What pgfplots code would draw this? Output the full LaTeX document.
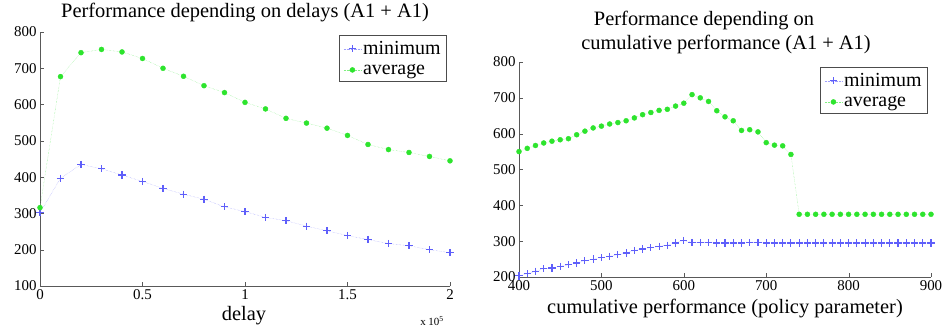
\documentclass[border=0pt]{standalone}
\usepackage{fontspec}
\setmainfont{Liberation Serif}
\usepackage{pgfplots}
\pgfplotsset{compat=1.18}
\definecolor{mblue}{RGB}{95,95,250}
\definecolor{mgreen}{RGB}{45,228,45}
\begin{document}
\begin{tikzpicture}
\useasboundingbox (0bp,0bp) rectangle (944bp,331bp);
\pgfplotsset{every axis/.append style={
  scale only axis, clip=false,
  axis x line=bottom, axis y line=left,
  axis line style={black!65,-},
  tick align=inside, major tick length=4bp, tick style={black!65},
  /pgf/number format/assume math mode=true,
  ticklabel style={font=\fontsize{15}{15}\selectfont},
  legend style={font=\fontsize{20}{22}\selectfont, draw=black!70, thick, at={(1,1)}, anchor=north east,
     inner xsep=4bp, inner ysep=4bp, row sep=4bp},
  legend cell align=left,
}}
\pgfplotsset{minstyle/.style={color=mblue!60, densely dotted, thin, mark=+, mark size=3.6bp, mark options={solid, draw=mblue, color=mblue, line width=1.1bp}},
             avgstyle/.style={color=mgreen!60, densely dotted, thin, mark=*, mark size=2.5bp, mark options={solid, fill=mgreen, draw=mgreen}}}

\begin{axis}[at={(40bp,45bp)}, anchor=south west, width=410bp, height=254bp,
  xmin=0, xmax=2, ymin=100, ymax=800,
  xtick={0,0.5,1,1.5,2}, xticklabels={0,0.5,1,1.5,2},
  ytick={100,200,...,800},
  legend style={xshift=-3bp, yshift=-3bp}]
\addplot[minstyle] coordinates {
(0,302)(0.1,397)(0.2,435)(0.3,423)(0.4,406)(0.5,388)(0.6,369)(0.7,353)(0.8,339)(0.9,318)(1.0,305)
(1.1,289)(1.2,280)(1.3,265)(1.4,252)(1.5,239)(1.6,228)(1.7,217)(1.8,211)(1.9,200)(2.0,192)};
\addlegendentry{minimum}
\addplot[avgstyle] coordinates {
(0,316)(0.1,677)(0.2,743)(0.3,752)(0.4,745)(0.5,727)(0.6,700)(0.7,678)(0.8,652)(0.9,633)(1.0,606)
(1.1,588)(1.2,562)(1.3,549)(1.4,535)(1.5,515)(1.6,490)(1.7,476)(1.8,468)(1.9,457)(2.0,445)};
\addlegendentry{average}
\end{axis}

\begin{axis}[at={(519bp,54bp)}, anchor=south west, width=412bp, height=215bp,
  xmin=400, xmax=900, ymin=200, ymax=800,
  xtick={400,500,...,900}, ytick={200,300,...,800},
  legend style={xshift=-3bp, yshift=-5bp}]
\addplot[minstyle] coordinates {
(400,203)(410,209)(420,216)(430,223)(440,225)(450,230)(460,234)(470,239)(480,245)(490,250)
(500,254)(510,258)(520,262)(530,267)(540,274)(550,278)(560,282)(570,286)(580,289)(590,295)
(600,302)(610,296)(620,296)(630,296)(640,295)(650,295)(660,295)(670,295)(680,296)(690,296)
(700,295)(710,295)(720,295)(730,295)(740,295)(750,295)(760,295)(770,295)(780,295)(790,295)
(800,295)(810,295)(820,295)(830,295)(840,295)(850,295)(860,295)(870,295)(880,295)(890,295)(900,295)};
\addlegendentry{minimum}
\addplot[avgstyle] coordinates {
(400,550)(410,559)(420,567)(430,574)(440,579)(450,583)(460,586)(470,597)(480,607)(490,616)
(500,621)(510,627)(520,631)(530,636)(540,644)(550,653)(560,659)(570,665)(580,668)(590,677)
(600,685)(610,709)(620,700)(630,690)(640,664)(650,647)(660,636)(670,609)(680,611)(690,605)
(700,575)(710,568)(720,566)(730,542)(740,375)(750,375)(760,375)(770,375)(780,375)(790,375)
(800,375)(810,375)(820,375)(830,375)(840,375)(850,375)(860,375)(870,375)(880,375)(890,375)(900,375)};
\addlegendentry{average}
\end{axis}

\node[anchor=base, font=\fontsize{20.5}{22}\selectfont] at (245bp,313bp) {Performance depending on delays (A1 + A1)};
\node[anchor=base, font=\fontsize{20.5}{22}\selectfont] at (704bp,305bp) {Performance depending on};
\node[anchor=base, font=\fontsize{20.5}{22}\selectfont] at (726bp,281bp) {cumulative performance (A1 + A1)};
\node[anchor=base, font=\fontsize{20.5}{22}\selectfont] at (244bp,11bp) {delay};
\node[anchor=base, font=\fontsize{20.5}{22}\selectfont] at (725bp,18bp) {cumulative performance (policy parameter)};
\node[anchor=base, font=\fontsize{11}{12}\selectfont] at (432bp,6bp) {x 10\textsuperscript{5}};
\end{tikzpicture}
\end{document}
